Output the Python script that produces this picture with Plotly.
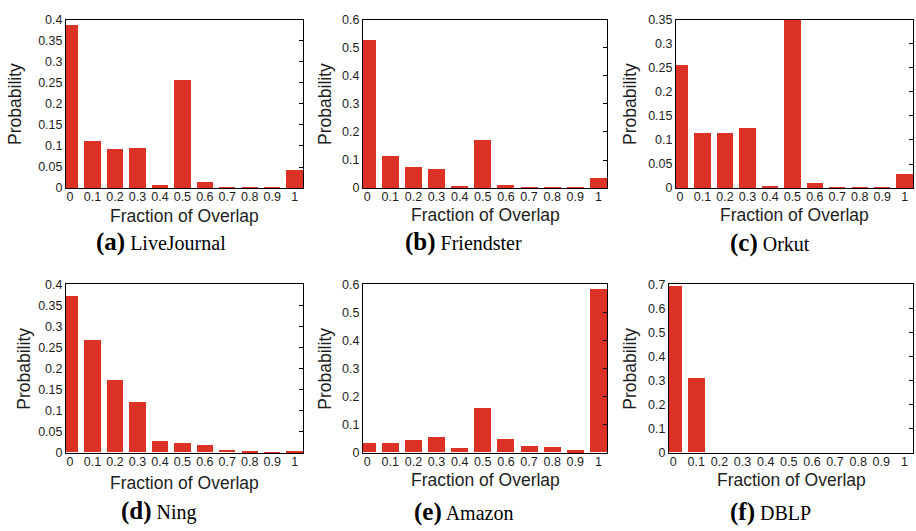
import plotly.graph_objects as go

W, H = 916, 531

categories = [0, 0.1, 0.2, 0.3, 0.4, 0.5, 0.6, 0.7, 0.8, 0.9, 1]
tick_labels = ["0", "0.1", "0.2", "0.3", "0.4", "0.5", "0.6", "0.7", "0.8", "0.9", "1"]

livejournal = [0.387, 0.112, 0.093, 0.095, 0.0085, 0.257, 0.0154, 0.0046, 0.0023, 0.002, 0.044]
friendster = [0.530, 0.115, 0.0765, 0.0707, 0.008, 0.1715, 0.0127, 0.0035, 0.003, 0.002, 0.036]
orkut = [0.257, 0.116, 0.115, 0.125, 0.006, 0.352, 0.012, 0.002, 0.002, 0.0015, 0.029]
ning = [0.3715, 0.268, 0.1715, 0.120, 0.026, 0.023, 0.0185, 0.0054, 0.003, 0.0008, 0.003]
amazon = [0.032, 0.032, 0.045, 0.0565, 0.0173, 0.157, 0.0496, 0.022, 0.021, 0.007, 0.583]
dblp = [0.693, 0.311, 0, 0, 0, 0, 0, 0, 0, 0, 0]

panel_letters = ["(a)", "(b)", "(c)", "(d)", "(e)", "(f)"]
panel_names = ["LiveJournal", "Friendster", "Orkut", "Ning", "Amazon", "DBLP"]
series = [livejournal, friendster, orkut, ning, amazon, dblp]
y_max = [0.4, 0.6, 0.35, 0.4, 0.6, 0.7]
y_step = [0.05, 0.1, 0.05, 0.05, 0.1, 0.1]

# layout (pixel boxes of plot areas)
boxes = [(66, 303, 13, 186), (363, 607, 13, 186), (676, 913, 13, 186),
         (66, 303, 285, 458), (363, 607, 285, 458), (669, 913, 285, 458)]
ylab_x = [15, 325, 630, 24, 325, 630]
xlab_y = [215, 214, 214, 489, 486, 486]
cap_x = [161, 463, 770, 159, 463, 770]
cap_y = [241, 241, 242, 518, 519, 519]

BAR = "#DC3125"
TXT = "#1e1e1e"
SANS = "Liberation Sans, Arial, sans-serif"
SERIF = "Liberation Serif, Times New Roman, serif"

def px(x):
    return x / W

def py(y):
    return 1 - y / H

fig = go.Figure()
layout = dict(width=W, height=H, margin=dict(l=0, r=0, t=0, b=0),
              paper_bgcolor="white", plot_bgcolor="white", showlegend=False,
              bargap=0)
annotations = []

for i in range(6):
    n = i + 1
    xa = "x" if n == 1 else f"x{n}"
    ya = "y" if n == 1 else f"y{n}"
    yr = f"y{n + 6}"
    fig.add_trace(go.Bar(x=categories, y=series[i], xaxis=xa, yaxis=ya,
                         width=[0.073] * len(categories),
                         marker=dict(color=BAR, line=dict(width=0)),
                         hoverinfo="x+y"))
    # invisible trace to anchor the right-side tick axis
    fig.add_trace(go.Scatter(x=[categories[0]], y=[0], xaxis=xa, yaxis=yr,
                             mode="markers", marker=dict(opacity=0),
                             hoverinfo="skip"))
    l, r, t, b = boxes[i]
    ticks_y = []
    v = 0.0
    while v <= y_max[i] + 1e-9:
        ticks_y.append(round(v, 3))
        v += y_step[i]
    layout[f"xaxis{'' if n == 1 else n}"] = dict(
        domain=[px(l), px(r)], anchor=ya, range=[-0.018, 1.037],
        tickvals=categories, ticktext=tick_labels, ticks="",
        ticklabelstandoff=-3,
        showline=True, linecolor="black", linewidth=1, mirror=True,
        showgrid=False, zeroline=False,
        tickfont=dict(family=SANS, size=12.5, color=TXT), fixedrange=True)
    layout[f"yaxis{'' if n == 1 else n}"] = dict(
        domain=[py(b), py(t)], anchor=xa, range=[0, y_max[i]],
        tickvals=ticks_y, ticktext=[("%g" % tv) for tv in ticks_y], ticks="",
        showline=True, linecolor="black", linewidth=1, mirror=True,
        showgrid=False, zeroline=False,
        tickfont=dict(family=SANS, size=12.5, color=TXT), fixedrange=True)
    layout[f"yaxis{n + 6}"] = dict(
        overlaying=ya, side="right", anchor=xa, range=[0, y_max[i]],
        tickvals=ticks_y, ticks="inside", ticklen=4, tickcolor="black",
        showticklabels=False, showline=False, showgrid=False, zeroline=False,
        fixedrange=True)
    annotations.append(dict(x=px(ylab_x[i]), y=py((t + b) / 2), xref="paper", yref="paper",
                            text="Probability", textangle=-90, showarrow=False,
                            xanchor="center", yanchor="middle",
                            font=dict(family=SANS, size=17.5, color=TXT)))
    annotations.append(dict(x=px((l + r) / 2), y=py(xlab_y[i]), xref="paper", yref="paper",
                            text="Fraction of Overlap", showarrow=False,
                            xanchor="center", yanchor="middle",
                            font=dict(family=SANS, size=17.5, color=TXT)))
    annotations.append(dict(x=px(cap_x[i]), y=py(cap_y[i]), xref="paper", yref="paper",
                            text=f"<b><span style='font-size:25px'>{panel_letters[i]}</span></b> {panel_names[i]}",
                            showarrow=False, xanchor="center", yanchor="middle",
                            font=dict(family=SERIF, size=20, color="black")))

layout["annotations"] = annotations
fig.update_layout(**layout)
fig.write_html("out.html")
